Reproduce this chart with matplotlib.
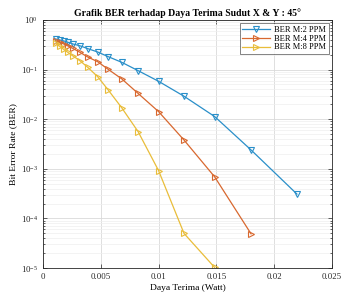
import numpy as np
import matplotlib
matplotlib.use("Agg")
import matplotlib.pyplot as plt
from matplotlib.ticker import LogLocator, NullFormatter

# received power (Watt), shared by all series
daya = [0.00109, 0.00145, 0.0018, 0.00216, 0.00259, 0.00322, 0.00387, 0.00473,
        0.00564, 0.00681, 0.00823, 0.0100, 0.0122, 0.01485, 0.0180, 0.02197]

ber_m2 = [0.414, 0.395, 0.377, 0.355, 0.328, 0.300, 0.264, 0.226,
          0.182, 0.140, 0.095, 0.058, 0.029, 0.0113, 0.0024, 3.1e-4]
ber_m4 = [0.377, 0.352, 0.328, 0.299, 0.266, 0.221, 0.179, 0.144,
          0.101, 0.065, 0.033, 0.0142, 0.0038, 6.9e-4, 4.9e-5]
ber_m8 = [0.336, 0.292, 0.254, 0.221, 0.188, 0.149, 0.111, 0.072,
          0.0388, 0.017, 0.0056, 9.2e-4, 5.0e-5, 1.03e-5]

labels = ["BER M:2 PPM", "BER M:4 PPM", "BER M:8 PPM"]
BLUE = '#2a8fc9'
ORANGE = '#d8682f'
YELLOW = '#e9bd3a'

plt.rcParams['font.family'] = ['Liberation Serif', 'DejaVu Serif']
plt.rcParams['mathtext.fontset'] = 'stix'

fig = plt.figure(figsize=(3.44, 2.93), dpi=100)
ax = fig.add_axes([0.125, 0.085, 0.84, 0.847])

ax.semilogy(daya[:len(ber_m2)], ber_m2, '-v', color=BLUE, lw=0.9, ms=4,
            mfc='none', mew=0.8, label=labels[0])
ax.semilogy(daya[:len(ber_m4)], ber_m4, '->', color=ORANGE, lw=0.9, ms=4,
            mfc='none', mew=0.8, label=labels[1])
ax.semilogy(daya[:len(ber_m8)], ber_m8, '->', color=YELLOW, lw=0.9, ms=4,
            mfc='none', mew=0.8, label=labels[2])

ax.set_xlim(0, 0.025)
ax.set_ylim(1e-5, 1)
ax.set_xticks([0, 0.005, 0.01, 0.015, 0.02, 0.025])
ax.set_xticklabels(["0", "0.005", "0.01", "0.015", "0.02", "0.025"])
ax.yaxis.set_major_locator(LogLocator(base=10, numticks=10))
ax.yaxis.set_minor_locator(LogLocator(base=10, subs=np.arange(2, 10), numticks=10))
ax.yaxis.set_minor_formatter(NullFormatter())

ax.grid(True, which='major', color='#d9d9d9', lw=0.6)
ax.grid(True, which='minor', color='#eeeeee', lw=0.5)
ax.tick_params(which='both', direction='in', top=True, right=True,
               labelsize=6.3, width=0.5, colors='#262626')
ax.tick_params(which='major', length=3)
ax.tick_params(which='minor', length=1.5)
for s in ax.spines.values():
    s.set_linewidth(0.6)
    s.set_color('#262626')

ax.set_xlabel("Daya Terima (Watt)", fontsize=6.8, labelpad=2)
ax.set_ylabel("Bit Error Rate (BER)", fontsize=6.8, labelpad=3)
ax.set_title("Grafik BER terhadap Daya Terima Sudut X & Y : 45°",
             fontsize=7, fontweight='bold', pad=3)

leg = ax.legend(loc='upper right', fontsize=6, frameon=True, fancybox=False,
                edgecolor='#262626', borderpad=0.3, labelspacing=0.1,
                handlelength=3.3, handletextpad=0.5, borderaxespad=0.4)
leg.get_frame().set_linewidth(0.5)

fig.savefig("out.png", dpi=100)
